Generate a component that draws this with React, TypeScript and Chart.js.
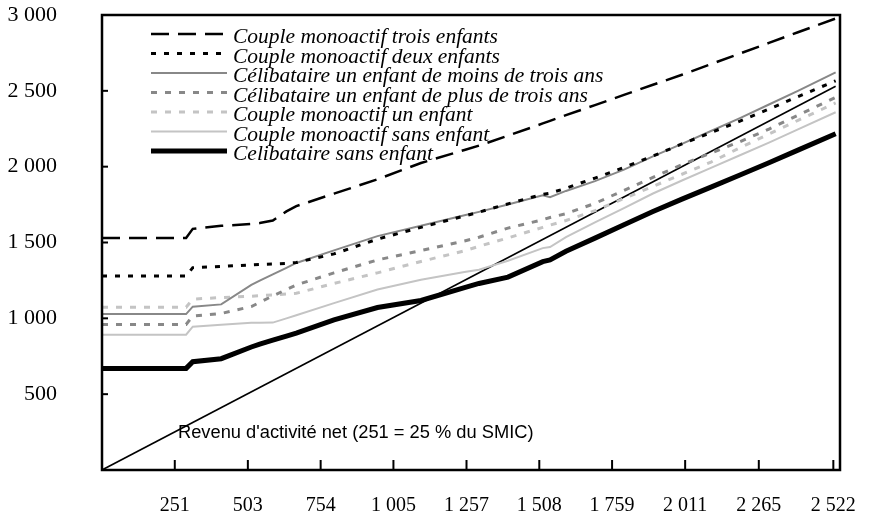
import React, { useEffect, useRef } from 'react';
import { Chart, registerables } from 'chart.js';

Chart.register(...registerables);

// Revenu d'activité net (euros) — abscissa of every series point
const incomes = [0, 290, 313, 411, 515, 544, 589, 636, 670, 800, 950, 1100, 1250, 1300, 1400, 1520, 1545, 1600, 1700, 1800, 1900, 2000, 2100, 2200, 2300, 2400, 2530];

const coupleTroisEnfants = [1530, 1530, 1590, 1610, 1622, 1628, 1645, 1705, 1740, 1822, 1917, 2024, 2110, 2139, 2204, 2285, 2302, 2340, 2406, 2473, 2540, 2606, 2676, 2746, 2816, 2886, 2977];
const coupleDeuxEnfants = [1279, 1279, 1334, 1342, 1352, 1355, 1358, 1362, 1368, 1425, 1522, 1600, 1675, 1700, 1755, 1818, 1825, 1858, 1925, 1995, 2070, 2150, 2225, 2300, 2380, 2462, 2566];
const celibMoinsTrois = [1028, 1028, 1077, 1092, 1220, 1248, 1290, 1333, 1365, 1448, 1542, 1610, 1680, 1702, 1750, 1812, 1798, 1840, 1905, 1980, 2068, 2150, 2235, 2320, 2410, 2500, 2622];
const celibPlusTrois = [960, 960, 1015, 1032, 1078, 1105, 1148, 1190, 1220, 1300, 1385, 1447, 1510, 1535, 1595, 1650, 1665, 1690, 1758, 1844, 1930, 2013, 2090, 2165, 2248, 2339, 2457];
const coupleUnEnfant = [1073, 1073, 1127, 1137, 1146, 1150, 1154, 1160, 1165, 1230, 1300, 1375, 1445, 1475, 1530, 1600, 1615, 1645, 1710, 1790, 1870, 1950, 2030, 2125, 2215, 2305, 2420];
const coupleSansEnfant = [892, 892, 945, 958, 971, 971, 972, 1000, 1020, 1100, 1190, 1255, 1305, 1320, 1380, 1463, 1470, 1536, 1632, 1727, 1823, 1909, 1992, 2075, 2159, 2246, 2359];
const celibSansEnfant = [670, 670, 714, 734, 811, 830, 856, 883, 903, 990, 1071, 1118, 1203, 1230, 1272, 1374, 1385, 1442, 1529, 1617, 1704, 1786, 1865, 1945, 2026, 2109, 2217];

// Revenu d'activité net (diagonal reference)
const revenuX = [0, 2530];
const revenuY = [0, 2530];

const seriesLabels = [
  'Couple monoactif trois enfants',
  'Couple monoactif deux enfants',
  'Célibataire un enfant de moins de trois ans',
  'Célibataire un enfant de plus de trois ans',
  'Couple monoactif un enfant',
  'Couple monoactif sans enfant',
  'Celibataire sans enfant',
];
const seriesValues = [
  coupleTroisEnfants,
  coupleDeuxEnfants,
  celibMoinsTrois,
  celibPlusTrois,
  coupleUnEnfant,
  coupleSansEnfant,
  celibSansEnfant,
];

const xTickValues = [251, 503, 754, 1005, 1257, 1508, 1759, 2011, 2265, 2522];
const yTickValues = [500, 1000, 1500, 2000, 2500, 3000];
const annotationText = "Revenu d'activité net (251 = 25 % du SMIC)";

const styles = [
  { color: '#000000', width: 2.5, dash: [18, 9] },
  { color: '#000000', width: 3, dash: [5, 8] },
  { color: '#888888', width: 2, dash: [] },
  { color: '#888888', width: 3, dash: [6, 8] },
  { color: '#c4c4c4', width: 3, dash: [6, 8] },
  { color: '#c4c4c4', width: 2, dash: [] },
  { color: '#000000', width: 5, dash: [] },
];

const fmt = (v: number) => String(Math.round(v)).replace(/\B(?=(\d{3})+(?!\d))/g, ' ');

const decorPlugin = {
  id: 'decor',
  afterDatasetsDraw(chart: any) {
    const { ctx, chartArea } = chart;
    const xs = chart.scales.x;
    const ys = chart.scales.y;
    const { left, right, top, bottom } = chartArea;
    ctx.save();
    ctx.strokeStyle = '#000';
    ctx.lineWidth = 2.5;
    ctx.setLineDash([]);
    ctx.strokeRect(left, top, right - left, bottom - top);
    ctx.lineWidth = 2;
    yTickValues.forEach((v) => {
      const y = ys.getPixelForValue(v);
      ctx.beginPath();
      ctx.moveTo(left, y);
      ctx.lineTo(left + 6, y);
      ctx.stroke();
    });
    xTickValues.forEach((v) => {
      const x = xs.getPixelForValue(v);
      ctx.beginPath();
      ctx.moveTo(x, bottom);
      ctx.lineTo(x, bottom - 10);
      ctx.stroke();
    });

    // annotation
    ctx.fillStyle = '#000';
    ctx.font = '18.3px "Liberation Sans", Arial, sans-serif';
    ctx.textAlign = 'left';
    ctx.textBaseline = 'alphabetic';
    ctx.fillText(annotationText, xs.getPixelForValue(262), ys.getPixelForValue(211));

    // legend inside plot
    const lx0 = 151, lx1 = 227, tx = 233, y0 = 34, dy = 19.5;
    ctx.font = 'italic 21.5px "Liberation Serif", "Times New Roman", serif';
    seriesLabels.forEach((label, i) => {
      const st = styles[i];
      const y = y0 + i * dy;
      ctx.strokeStyle = st.color;
      ctx.lineWidth = st.width;
      ctx.setLineDash(st.dash);
      ctx.beginPath();
      ctx.moveTo(lx0, y);
      ctx.lineTo(lx1, y);
      ctx.stroke();
      ctx.setLineDash([]);
      ctx.fillStyle = '#000';
      ctx.fillText(label, tx, y + 9);
    });
    ctx.restore();
  },
};

export default function App() {
  const ref = useRef<HTMLCanvasElement | null>(null);
  useEffect(() => {
    if (!ref.current) return;
    const datasets: any[] = seriesValues.map((vals, i) => ({
      label: seriesLabels[i],
      data: incomes.map((x, k) => ({ x, y: vals[k] })),
      borderColor: styles[i].color,
      borderWidth: styles[i].width,
      borderDash: styles[i].dash,
      pointRadius: 0,
      tension: 0,
      fill: false,
    }));
    datasets.push({
      label: "Revenu d'activité net",
      data: revenuX.map((x, k) => ({ x, y: revenuY[k] })),
      borderColor: '#000',
      borderWidth: 1.6,
      pointRadius: 0,
      tension: 0,
      fill: false,
    });
    const chart = new Chart(ref.current, {
      type: 'line',
      data: { datasets },
      options: {
        responsive: false,
        animation: false,
        devicePixelRatio: 1,
        layout: { padding: { top: 15, right: 33, bottom: 0, left: 0 } },
        plugins: { legend: { display: false }, tooltip: { enabled: false } },
        scales: {
          x: {
            type: 'linear',
            min: 0,
            max: 2545,
            grid: { display: true, drawOnChartArea: false, drawTicks: true, tickLength: 24, tickColor: 'rgba(0,0,0,0)' },
            border: { display: false },
            ticks: {
              padding: 0,
              color: '#000',
              autoSkip: false,
              maxRotation: 0,
              font: { family: '"Liberation Serif", "Times New Roman", serif', size: 20 },
              callback: (v: any) => fmt(Number(v)),
            },
            afterBuildTicks: (s: any) => {
              s.ticks = xTickValues.map((v) => ({ value: v }));
            },
            afterFit: (s: any) => {
              s.height = 46;
            },
          },
          y: {
            type: 'linear',
            min: 0,
            max: 3000,
            grid: { display: true, drawOnChartArea: false, drawTicks: true, tickLength: 45, tickColor: 'rgba(0,0,0,0)' },
            border: { display: false },
            ticks: {
              padding: 0,
              color: '#000',
              font: { family: '"Liberation Serif", "Times New Roman", serif', size: 22 },
              callback: (v: any) => (Number(v) === 0 ? '' : fmt(Number(v))),
            },
            afterBuildTicks: (s: any) => {
              s.ticks = [0, ...yTickValues].map((v) => ({ value: v }));
            },
            afterFit: (s: any) => {
              s.width = 102;
            },
          },
        },
      },
      plugins: [decorPlugin],
    });
    return () => chart.destroy();
  }, []);
  return (
    <div style={{ position: 'fixed', left: 0, top: 0, width: 873, height: 516, background: '#fff' }}>
      <canvas ref={ref} width={873} height={516} style={{ display: 'block' }} />
    </div>
  );
}
